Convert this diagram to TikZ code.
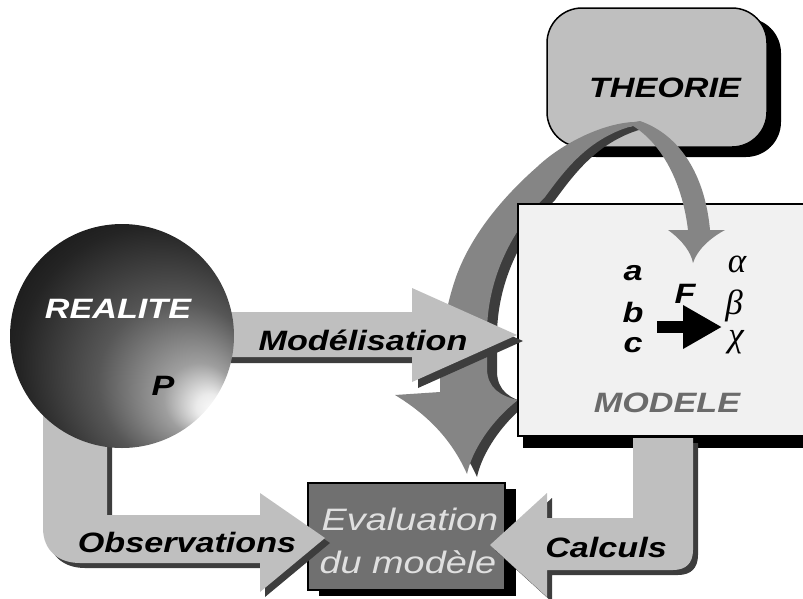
\documentclass[tikz,border=0pt]{standalone}
\usepackage{fontspec}
\setmainfont{Liberation Sans}[FakeStretch=1.22]
\newfontfamily\greekfont{Liberation Serif}
\usepackage{tikz}
\usetikzlibrary{positioning}
\usetikzlibrary{shadows}
\usetikzlibrary{arrows.meta}
\usepackage{xcolor}
\definecolor{lightarr}{gray}{0.75}
\definecolor{midarr}{gray}{0.52}
\definecolor{darkshade}{gray}{0.24}
\definecolor{theoriefill}{gray}{0.75}
\definecolor{modelefill}{gray}{0.945}
\definecolor{evalfill}{gray}{0.44}
\definecolor{evaltext}{gray}{0.88}
\definecolor{modeletext}{gray}{0.42}
\pgfdeclareradialshading{realiteshade}{\pgfpoint{21bp}{-17bp}}{color(0bp)=(white); color(3bp)=(white!92!black); color(8bp)=(black!38); color(18bp)=(black!66); color(30bp)=(black!86); color(45bp)=(black)}

\begin{document}
\begin{tikzpicture}[x=1pt, y=-1pt,
    lbl/.style={font=\fontsize{28}{30}\selectfont\bfseries\itshape, anchor=base, inner sep=0pt},
    greek/.style={font=\fontsize{35}{35}\selectfont\greekfont\itshape, anchor=base, inner sep=0pt},
    castshadow/.style 2 args={preaction={fill=darkshade, transform canvas={xshift=#1, yshift=#2}}}]
    \useasboundingbox (0,0) rectangle (803,598);
    \clip (0,0) rectangle (803,598);

    % Theorie
    \node[draw, line width=1.5pt, fill=theoriefill, rounded corners=35pt, minimum width=220pt, minimum height=139pt,
          drop shadow={shadow xshift=14pt, shadow yshift=-10pt, fill=black, opacity=1}] (theorie) at (657,77.5) {};
    \node[lbl] (theorietxt) at (665,97) {THEORIE};

    % big return arrow, theorie -> evaluation
    \fill[midarr, castshadow={10pt}{-3pt}] (633,122) .. controls (600,124) and (560,145) .. (537,167)
        .. controls (505,195) and (470,235) .. (455,280) .. controls (445,310) and (440,340) .. (440,392)
        -- (395,395) .. controls (428,415) and (452,440) .. (467,474)
        .. controls (472,450) and (492,420) .. (518,400)
        .. controls (500,396) and (488,388) .. (487,370) -- (487,330)
        .. controls (488,280) and (510,232) .. (545,197)
        .. controls (565,170) and (590,135) .. (640,124) -- cycle;

    % Modele
    \node[draw, line width=2pt, fill=modelefill, minimum width=312pt, minimum height=232pt,
          drop shadow={shadow xshift=5pt, shadow yshift=-12pt, fill=black, opacity=1}] (modele) at (674,320) {};
    \node[lbl] (a) at (633,280) {a};
    \node[lbl] (b) at (633,322) {b};
    \node[lbl] (c) at (633,352) {c};
    \node[lbl] (f) at (685,303) {F};
    \node[greek] (alpha) at (737,272) {α};
    \node[greek] (beta) at (734,314) {β};
    \node[greek] (chi) at (736,346) {χ};
    \coordinate (fstart) at (657,327);
    \coordinate (fend) at (722,327);
    \draw[line width=12pt, -{Triangle[length=39pt, width=41pt]}] (fstart) -- (fend);
    \node[lbl, text=modeletext] (modeletxt) at (667,412) {MODELE};

    % small arrow, theorie -> modele
    \fill[midarr] (628,123) .. controls (660,140) and (682,180) .. (688,230) -- (668,230)
        .. controls (682,240) and (691,252) .. (693,263)
        .. controls (697,250) and (710,238) .. (725,230) -- (710,230)
        .. controls (705,175) and (680,135) .. (640,121) -- cycle;

    % Modelisation
    \fill[lightarr, castshadow={6pt}{-6pt}] (225,312) -- (412,312) -- (412,288) -- (517,335)
        -- (412,382) -- (412,357) -- (225,357) -- cycle;
    \node[lbl] (modtxt) at (363,350) {Modélisation};

    % Evaluation
    \node[draw, line width=1.5pt, fill=evalfill, minimum width=197pt, minimum height=107pt,
          drop shadow={shadow xshift=11pt, shadow yshift=-6pt, fill=black, opacity=1}] (evaluation) at (406.5,536.5) {};

    % Observations
    \fill[lightarr, castshadow={5pt}{-5pt}] (43,400) -- (43,528) .. controls (43,550) and (58,563) .. (80,563)
        -- (260,563) -- (260,592) -- (325,538) -- (260,493) -- (260,515) -- (107,515) -- (107,400) -- cycle;
    \node[lbl] (obstxt) at (187,552) {Observations};

    % Calculs
    \fill[lightarr, castshadow={5pt}{-5pt}] (633,438) -- (633,518) -- (547,518) -- (547,493) -- (490,545)
        -- (547,597) -- (547,570) -- (673,570) .. controls (686,570) and (693,563) .. (693,550) -- (693,438) -- cycle;
    \node[lbl] (calctxt) at (606,557) {Calculs};

    \node[anchor=base, inner sep=0pt, text=evaltext, font=\fontsize{31}{34}\selectfont\itshape] (evaltxta) at (410,530) {Evaluation};
    \node[anchor=base, inner sep=0pt, text=evaltext, font=\fontsize{31}{34}\selectfont\itshape] (evaltxtb) at (408,573) {du modèle};

    % Realite
    \node[circle, inner sep=0pt, minimum size=224pt, shading=realiteshade] (realite) at (122,336) {};
    \node[lbl, text=white] (realitetxt) at (118,318) {REALITE};
    \node[lbl] (ptxt) at (163,395) {P};
\end{tikzpicture}
\end{document}
